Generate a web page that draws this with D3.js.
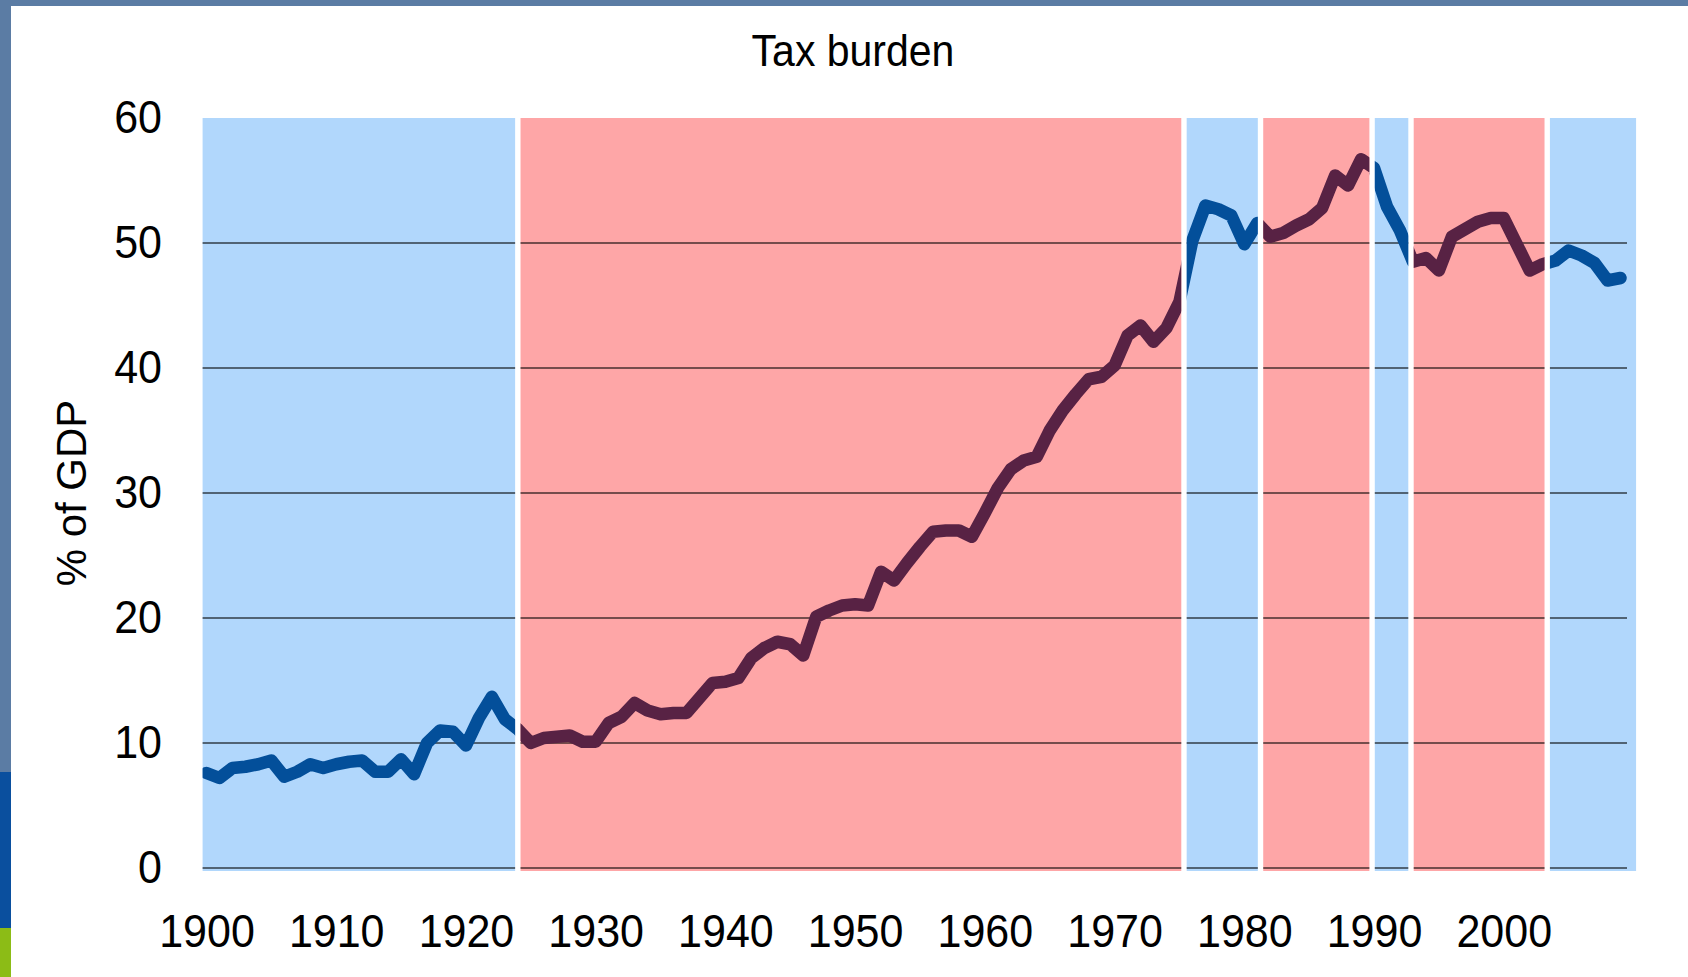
<!DOCTYPE html>
<html>
<head>
<meta charset="utf-8">
<script src="https://cdn.jsdelivr.net/npm/d3@7"></script>
<style>
  html, body { margin: 0; padding: 0; background: #5b7ca4; }
  svg { display: block; }
  text { font-family: "Liberation Sans", Arial, sans-serif; fill: #000; }
  .tall { transform-box: fill-box; transform-origin: center; transform: scaleY(1.07); }
</style>
</head>
<body>
<svg id="chart" width="1688" height="977"></svg>
<script>
// years on the category axis
var years = d3.range(1900, 2010);

// tax burden, % of GDP
var taxBurden = [
  7.6, 7.2, 8.0, 8.1, 8.3, 8.6, 7.3, 7.7, 8.3, 8.0,        // 1900s
  8.3, 8.5, 8.6, 7.7, 7.7, 8.7, 7.5, 10.0, 11.0, 10.9,    // 1910s
  9.8, 12.0, 13.7, 11.9, 11.1, 10.0, 10.4, 10.5, 10.6, 10.1, // 1920s
  10.1, 11.6, 12.1, 13.2, 12.6, 12.3, 12.4, 12.4, 13.6, 14.8, // 1930s
  14.9, 15.2, 16.8, 17.6, 18.1, 17.9, 17.0, 20.1, 20.6, 21.0, // 1940s
  21.1, 21.0, 23.7, 23.0, 24.4, 25.7, 26.9, 27.0, 27.0, 26.5, // 1950s
  28.4, 30.4, 31.9, 32.6, 32.9, 35.0, 36.6, 37.9, 39.1, 39.3, // 1960s
  40.2, 42.6, 43.4, 42.1, 43.2, 45.3, 50.2, 53.0, 52.7, 52.2, // 1970s
  49.9, 51.6, 50.5, 50.8, 51.4, 51.9, 52.8, 55.4, 54.6, 56.7, // 1980s
  56.0, 52.9, 51.0, 48.5, 48.8, 47.8, 50.5, 51.1, 51.7, 52.0, // 1990s
  52.0, 49.9, 47.8, 48.3, 48.6, 49.4, 49.0, 48.4, 47.0, 47.2  // 2000s
];

// government periods shading: edges in years, and which side governed
var bandEdges = [1899.7, 1924.0, 1975.35, 1981.25, 1989.85, 1992.85, 2003.35, 2010.2];
var bandSides = ["right", "left", "right", "left", "right", "left", "right"];

var yTicks = [0, 10, 20, 30, 40, 50, 60];
var gridTicks = [0, 10, 20, 30, 40, 50];
var xTicks = [1900, 1910, 1920, 1930, 1940, 1950, 1960, 1970, 1980, 1990, 2000];

var colors = {
  right: { band: "#b1d7fc", line: "#034f9a" },
  left:  { band: "#fea6a7", line: "#582244" }
};

var svg = d3.select("#chart");

// slide background bits at the left edge
svg.append("rect").attr("x", 0).attr("y", 772).attr("width", 12).attr("height", 160).attr("fill", "#0a4f9e");
svg.append("rect").attr("x", 0).attr("y", 928).attr("width", 12).attr("height", 49).attr("fill", "#8cbc16");

// white slide panel
svg.append("rect")
    .attr("x", 11).attr("y", 6)
    .attr("width", 1688 - 11).attr("height", 977 - 6)
    .attr("fill", "#fff");

var x = d3.scaleLinear().domain([1899.5, 2009.5]).range([200, 1627]);
var y = d3.scaleLinear().domain([0, 60]).range([868, 118]);

var bandTop = 118, bandBottom = 871, gap = 5.4;

var bands = bandSides.map(function(side, i) {
  return { side: side, x0: x(bandEdges[i]), x1: x(bandEdges[i + 1]), first: i === 0, last: i === bandSides.length - 1 };
});
bands.forEach(function(b) {
  b.left = b.first ? b.x0 : b.x0 + gap / 2;
  b.right = b.last ? b.x1 : b.x1 - gap / 2;
});

var defs = svg.append("defs");
function makeClip(id, filterFn) {
  defs.append("clipPath").attr("id", id)
    .selectAll("rect")
    .data(bands.filter(filterFn))
    .enter().append("rect")
      .attr("x", function(d) { return d.left; })
      .attr("y", bandTop)
      .attr("width", function(d) { return d.right - d.left; })
      .attr("height", bandBottom - bandTop);
}
makeClip("clip-all", function() { return true; });
makeClip("clip-right", function(d) { return d.side === "right"; });
makeClip("clip-left", function(d) { return d.side === "left"; });

// shaded bands
svg.append("g").attr("class", "bands")
  .selectAll("rect")
  .data(bands)
  .enter().append("rect")
    .attr("x", function(d) { return d.left; })
    .attr("y", bandTop)
    .attr("width", function(d) { return d.right - d.left; })
    .attr("height", bandBottom - bandTop)
    .attr("fill", function(d) { return colors[d.side].band; });

// gridlines
svg.append("g").attr("class", "grid")
    .attr("clip-path", "url(#clip-all)")
  .selectAll("line")
  .data(gridTicks)
  .enter().append("line")
    .attr("x1", x.range()[0]).attr("x2", x.range()[1])
    .attr("y1", function(d) { return y(d); })
    .attr("y2", function(d) { return y(d); })
    .attr("stroke", "#000")
    .attr("stroke-opacity", 0.72)
    .attr("stroke-width", 1.7);

// the series, coloured by who governed
var points = years.map(function(yr, i) { return { year: yr, value: taxBurden[i] }; });
var line = d3.line()
    .x(function(d) { return x(d.year); })
    .y(function(d) { return y(d.value); });

["right", "left"].forEach(function(side) {
  svg.append("path")
      .datum(points)
      .attr("clip-path", "url(#clip-" + side + ")")
      .attr("d", line)
      .attr("fill", "none")
      .attr("stroke", colors[side].line)
      .attr("stroke-width", 12.5)
      .attr("stroke-linejoin", "round")
      .attr("stroke-linecap", "round");
});

// axes (labels only)
var yAxis = svg.append("g")
    .attr("transform", "translate(200,0)")
    .call(d3.axisLeft(y).tickValues(yTicks).tickSize(0).tickPadding(38));
yAxis.select(".domain").remove();
yAxis.selectAll("text")
    .attr("class", "tall")
    .attr("font-family", "Liberation Sans, Arial, sans-serif")
    .attr("font-size", 43)
    .attr("fill", "#000");

var xAxis = svg.append("g")
    .attr("transform", "translate(0,868)")
    .call(d3.axisBottom(x).tickValues(xTicks).tickSize(0).tickPadding(47).tickFormat(d3.format("d")));
xAxis.select(".domain").remove();
xAxis.selectAll("text")
    .attr("class", "tall")
    .attr("font-family", "Liberation Sans, Arial, sans-serif")
    .attr("font-size", 43)
    .attr("fill", "#000");

// title
svg.append("text")
    .attr("class", "tall")
    .attr("x", 853).attr("y", 65)
    .attr("text-anchor", "middle")
    .attr("font-size", 41)
    .text("Tax burden");

// y axis title
svg.append("text")
    .attr("transform", "translate(86,493) rotate(-90)")
    .attr("text-anchor", "middle")
    .attr("font-size", 42)
    .text("% of GDP");
</script>
</body>
</html>
